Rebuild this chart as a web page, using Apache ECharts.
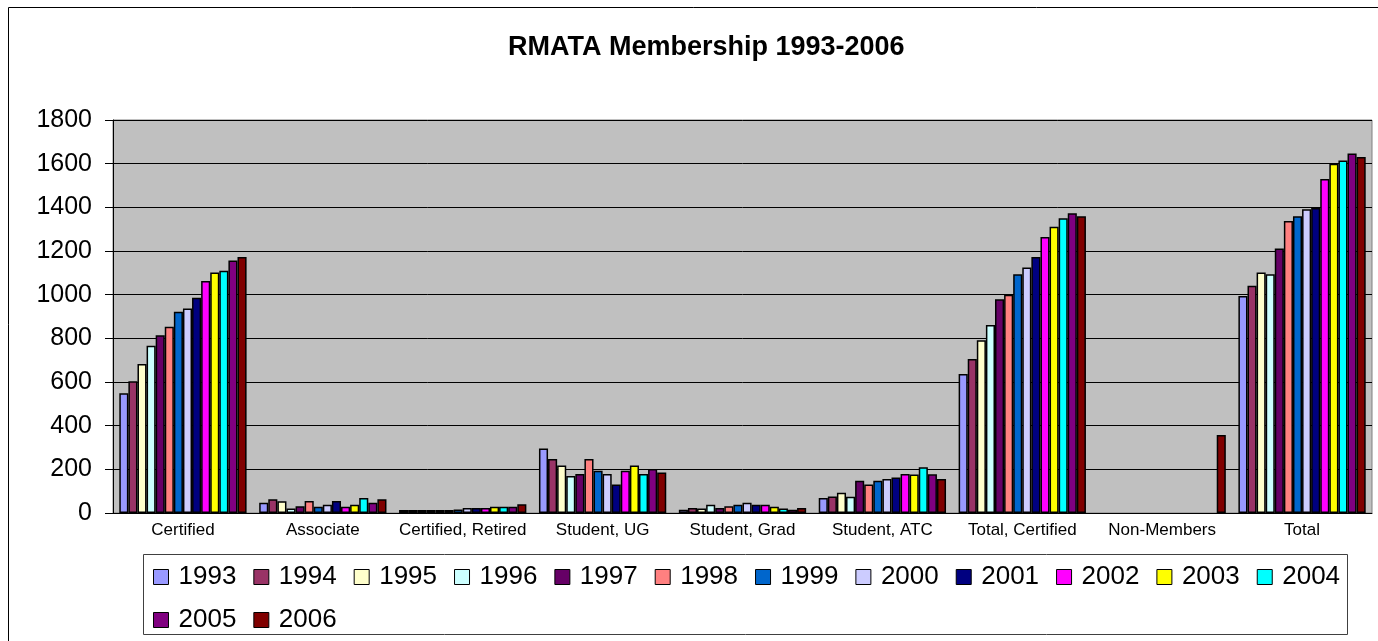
<!DOCTYPE html>
<html>
<head>
<meta charset="utf-8">
<script src="https://cdn.jsdelivr.net/npm/echarts@6/dist/echarts.min.js"></script>
<style>html,body{margin:0;padding:0;background:#fff;overflow:hidden;}#c{width:1378px;height:641px;}</style>
</head>
<body>
<div id="c"></div>
<script>
const categories = ["Certified", "Associate", "Certified, Retired", "Student, UG", "Student, Grad", "Student, ATC", "Total, Certified", "Non-Members", "Total"];
const years = ["1993","1994","1995","1996","1997","1998","1999","2000","2001","2002","2003","2004","2005","2006"];
const yearColors = ["#9999FF","#993366","#FFFFCC","#CCFFFF","#660066","#FF8080","#0066CC","#CCCCFF","#000080","#FF00FF","#FFFF00","#00FFFF","#800080","#800000"];
const v1993 = [548, 47, 14, 295, 15, 69, 637, null, 994];
const v1994 = [604, 63, 14, 247, 23, 76, 705, null, 1041];
const v1995 = [682, 54, 14, 217, 21, 93, 791, null, 1102];
const v1996 = [766, 21, 14, 170, 38, 75, 861, null, 1093];
const v1997 = [814, 31, 14, 179, 23, 148, 979, null, 1212];
const v1998 = [853, 55, 14, 247, 31, 131, 1000, null, 1337];
const v1999 = [922, 29, 16, 194, 38, 148, 1093, null, 1359];
const v2000 = [937, 38, 23, 179, 47, 156, 1125, null, 1391];
const v2001 = [986, 55, 23, 131, 38, 163, 1172, null, 1397];
const v2002 = [1063, 29, 23, 194, 38, 179, 1264, null, 1530];
const v2003 = [1101, 38, 29, 217, 29, 176, 1311, null, 1600];
const v2004 = [1110, 69, 29, 179, 21, 209, 1350, null, 1614];
const v2005 = [1156, 47, 29, 202, 15, 177, 1373, null, 1646];
const v2006 = [1172, 63, 40, 186, 23, 156, 1359, 357, 1631];
const yearValues = [v1993, v1994, v1995, v1996, v1997, v1998, v1999, v2000, v2001, v2002, v2003, v2004, v2005, v2006];
const yTicks = [0, 200, 400, 600, 800, 1000, 1200, 1400, 1600, 1800];

const FONT = '"Liberation Sans", Arial, sans-serif';
const chart = echarts.init(document.getElementById('c'), null, {renderer: 'canvas'});
chart.setOption({
  animation: false,
  backgroundColor: '#ffffff',
  graphic: [{
    type: 'rect', left: 6, top: 5, silent: true,
    shape: {width: 1420, height: 700},
    style: {fill: 'none', stroke: '#000000', lineWidth: 1}
  }, {
    type: 'rect', silent: true, z: 10,
    shape: {x: 143.5, y: 554.5, width: 1204, height: 80},
    style: {fill: 'none', stroke: '#404040', lineWidth: 1}
  }],
  title: {
    text: 'RMATA Membership 1993-2006',
    left: 503, top: 29,
    textStyle: {fontFamily: FONT, fontWeight: 'bold', fontSize: 27, color: '#000'}
  },
  legend: {
    data: years,
    left: 143, top: 554,
    width: 1190,
    orient: 'horizontal',
    itemWidth: 15, itemHeight: 15, itemGap: 17,
    icon: 'rect',
    padding: [10, 10, 3, 10],
    borderWidth: 0,
    itemStyle: {borderColor: '#000', borderWidth: 1},
    textStyle: {fontFamily: FONT, fontSize: 26, color: '#000', lineHeight: 23, padding: [0, 0, 0, 5]}
  },
  grid: {
    left: 113, top: 120, right: 6, bottom: 128,
    show: true, backgroundColor: '#C0C0C0', borderColor: '#808080', borderWidth: 1,
    containLabel: false
  },
  xAxis: {
    type: 'category', data: categories,
    axisLine: {show: true, lineStyle: {color: '#000', width: 1}},
    axisTick: {show: false},
    axisLabel: {fontFamily: FONT, fontSize: 17, color: '#000', margin: 9, interval: 0}
  },
  yAxis: {
    type: 'value', min: 0, max: 1800, interval: 200,
    axisLine: {show: true, lineStyle: {color: '#000', width: 1}},
    axisTick: {show: true, length: 8, lineStyle: {color: '#000'}},
    axisLabel: {fontFamily: FONT, fontSize: 25, color: '#000', margin: 21,
      formatter: function (v) { return yTicks.indexOf(v) >= 0 ? String(v) : ''; }},
    splitLine: {show: true, lineStyle: {color: '#000', width: 1}}
  },
  series: years.map(function (y, i) {
    return {
      name: y, type: 'bar', data: yearValues[i],
      barGap: '0%', barCategoryGap: '9%',
      itemStyle: {color: yearColors[i], borderColor: '#000', borderWidth: 1.5}
    };
  })
});
</script>
</body>
</html>
